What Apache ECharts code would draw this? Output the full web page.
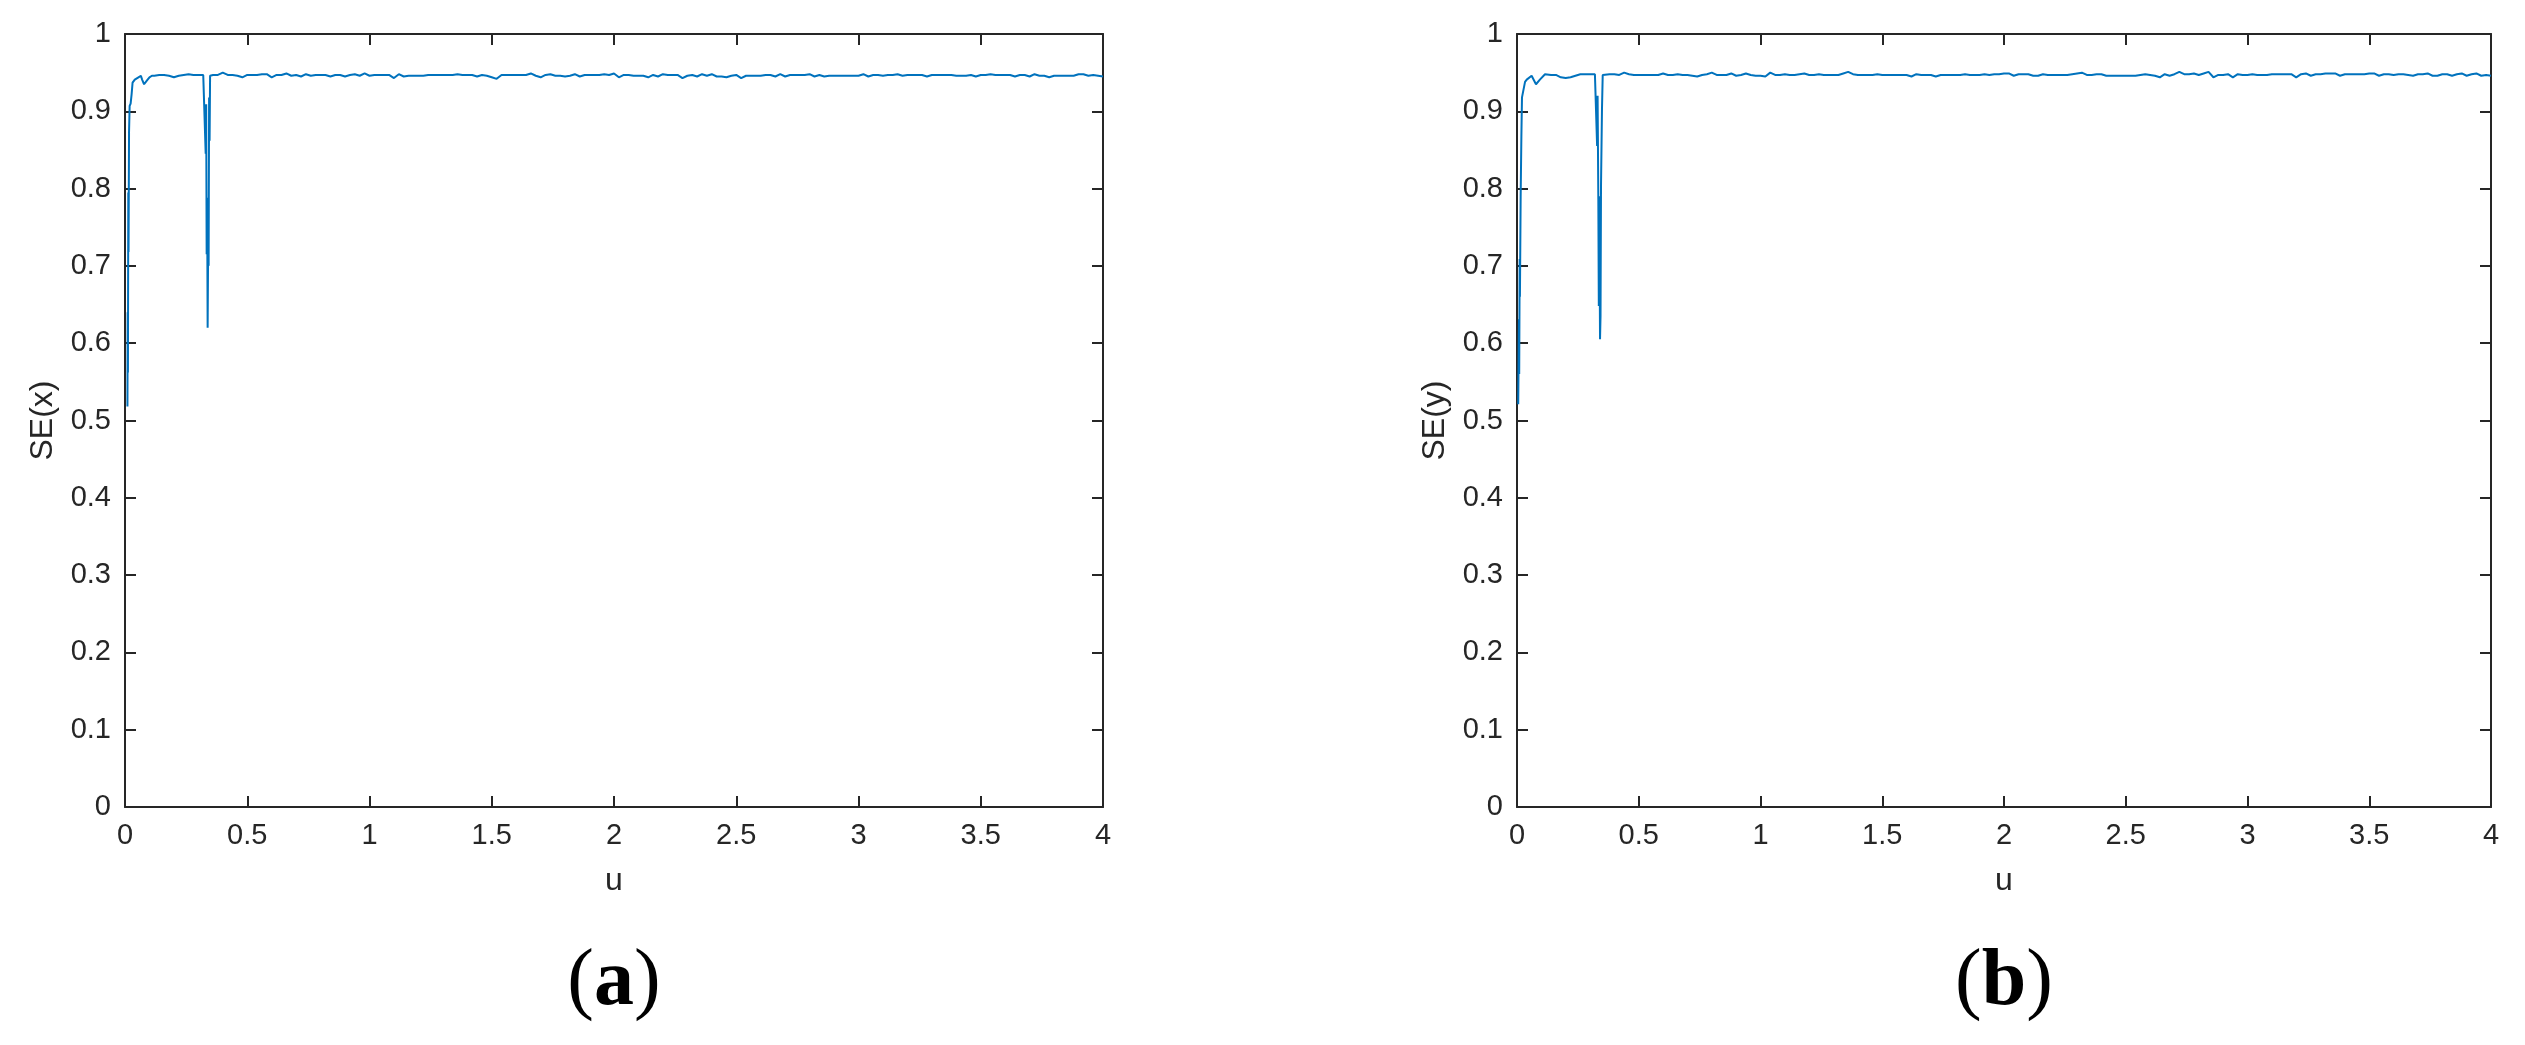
<!DOCTYPE html>
<html>
<head>
<meta charset="utf-8">
<script src="https://cdn.jsdelivr.net/npm/echarts/dist/echarts.min.js"></script>
<style>
html,body{margin:0;padding:0;background:#fff;}
#chart{width:2525px;height:1045px;}
</style>
</head>
<body>
<div id="chart"></div>
<script>
// ---- Data ----
const xTicks = { min: 0, max: 4, interval: 0.5 };
const yTicks = { min: 0, max: 1, interval: 0.1 };
const panelLabels = ['a', 'b'];
const yNames = ['SE(x)', 'SE(y)'];

// Panel (a): start-up transient and the dip near u = 0.33
const uHeadA = [0.010,0.011,0.012,0.0135,0.0145,0.0165,0.019,0.023,0.027,0.031,
  0.040,0.055,0.065,0.070,0.078,0.090,0.100,0.110,
  0.12,0.14,0.16,0.18,0.20,0.22,0.24,0.26,0.28,0.30,0.32,0.328,
  0.330,0.332,0.334,0.336,0.338,0.340,0.342,0.344,0.346,0.348];
const seHeadA = [0.518,0.640,0.562,0.795,0.718,0.873,0.907,0.910,0.922,0.937,
  0.941,0.944,0.946,0.941,0.935,0.940,0.944,0.946,
  0.946,0.947,0.947,0.946,0.944,0.946,0.947,0.948,0.947,0.947,0.947,0.947,
  0.845,0.909,0.715,0.788,0.620,0.722,0.700,0.918,0.862,0.946];

// Panel (a): plateau, u from 0.36 to 4.00 in steps of 0.02
const plateauStart = 0.36, plateauStep = 0.02;
const seTailA = [
  0.947,0.947,0.950,0.947,0.947,0.946,0.944,0.947,0.947,0.947,
  0.948,0.948,0.944,0.947,0.947,0.949,0.946,0.947,0.945,0.948,
  0.946,0.947,0.947,0.947,0.945,0.947,0.947,0.945,0.947,0.948,
  0.946,0.949,0.946,0.947,0.947,0.947,0.947,0.943,0.948,0.945,
  0.946,0.946,0.946,0.946,0.947,0.947,0.947,0.947,0.947,0.947,
  0.948,0.947,0.947,0.947,0.945,0.947,0.946,0.944,0.942,0.947,
  0.947,0.947,0.947,0.947,0.947,0.949,0.946,0.944,0.947,0.948,
  0.946,0.946,0.945,0.946,0.948,0.945,0.947,0.947,0.947,0.947,
  0.948,0.947,0.949,0.944,0.947,0.947,0.946,0.946,0.946,0.944,
  0.947,0.945,0.948,0.947,0.947,0.947,0.943,0.946,0.947,0.945,
  0.948,0.946,0.948,0.945,0.945,0.944,0.946,0.947,0.943,0.946,
  0.946,0.946,0.946,0.947,0.947,0.945,0.948,0.945,0.947,0.947,
  0.947,0.947,0.948,0.945,0.947,0.945,0.946,0.946,0.946,0.946,
  0.946,0.946,0.946,0.948,0.945,0.947,0.947,0.946,0.947,0.947,
  0.948,0.946,0.947,0.947,0.947,0.947,0.945,0.947,0.947,0.947,
  0.947,0.947,0.946,0.946,0.946,0.947,0.945,0.947,0.947,0.948,
  0.947,0.947,0.947,0.947,0.945,0.947,0.947,0.945,0.948,0.946,
  0.946,0.944,0.946,0.946,0.946,0.946,0.946,0.948,0.948,0.946,
  0.947,0.946,0.945];

// Panel (b): start-up transient and the dip near u = 0.33
const uHeadB = [0.005,0.008,0.009,0.011,0.012,0.015,0.018,0.0205,0.026,0.033,
  0.040,0.060,0.067,0.078,0.094,0.115,
  0.14,0.16,0.18,0.20,0.22,0.24,0.26,0.28,0.30,0.32,
  0.327,0.329,0.331,0.334,0.336,0.338,0.341,0.343,0.345,0.349,0.352];
const seHeadB = [0.521,0.631,0.560,0.709,0.660,0.789,0.868,0.918,0.920,0.938,
  0.941,0.946,0.947,0.935,0.941,0.948,
  0.947,0.947,0.944,0.943,0.944,0.946,0.948,0.948,0.948,0.948,
  0.948,0.855,0.920,0.786,0.648,0.790,0.605,0.635,0.8035,0.903,0.947];

// Panel (b): plateau, u from 0.36 to 4.00 in steps of 0.02
const seTailB = [
  0.947,0.948,0.948,0.947,0.950,0.948,0.947,0.947,0.947,0.947,
  0.947,0.947,0.949,0.947,0.947,0.948,0.947,0.947,0.946,0.945,
  0.947,0.948,0.950,0.947,0.947,0.947,0.949,0.946,0.947,0.949,
  0.947,0.946,0.946,0.945,0.950,0.947,0.947,0.948,0.947,0.947,
  0.948,0.949,0.947,0.947,0.948,0.947,0.947,0.947,0.947,0.949,
  0.951,0.948,0.947,0.947,0.947,0.947,0.948,0.947,0.947,0.947,
  0.947,0.947,0.947,0.945,0.948,0.947,0.947,0.947,0.945,0.947,
  0.947,0.947,0.947,0.947,0.948,0.947,0.947,0.947,0.948,0.947,
  0.948,0.948,0.949,0.949,0.946,0.948,0.948,0.948,0.946,0.946,
  0.948,0.947,0.947,0.947,0.947,0.947,0.948,0.949,0.950,0.947,
  0.947,0.948,0.948,0.946,0.946,0.946,0.946,0.946,0.946,0.946,
  0.947,0.948,0.947,0.946,0.944,0.948,0.946,0.948,0.951,0.948,
  0.948,0.949,0.947,0.949,0.951,0.944,0.947,0.947,0.948,0.944,
  0.948,0.947,0.947,0.948,0.947,0.947,0.947,0.948,0.948,0.948,
  0.948,0.948,0.944,0.948,0.949,0.946,0.948,0.948,0.949,0.949,
  0.949,0.946,0.948,0.948,0.948,0.948,0.948,0.949,0.949,0.946,
  0.948,0.948,0.947,0.948,0.948,0.947,0.946,0.948,0.948,0.949,
  0.946,0.946,0.948,0.948,0.946,0.948,0.949,0.946,0.948,0.949,
  0.946,0.947,0.946];

// ---- Build point lists ----
function buildSeries(uHead, seHead, seTail) {
  const pts = [];
  for (let i = 0; i < Math.min(uHead.length, seHead.length); i++) pts.push([uHead[i], seHead[i]]);
  for (let i = 0; i < seTail.length; i++) {
    const u = +(plateauStart + i * plateauStep).toFixed(4);
    pts.push([u, seTail[i]]);
  }
  return pts;
}
const seriesData = [buildSeries(uHeadA, seHeadA, seTailA), buildSeries(uHeadB, seHeadB, seTailB)];

// ---- Styling ----
const ink = '#262626';
const lineBlue = '#0072BD';
const sans = '"Liberation Sans", Arial, Helvetica, sans-serif';
const serif = '"Liberation Serif", "Times New Roman", serif';
const grids = [
  { left: 125, top: 34, width: 978, height: 773 },
  { left: 1517, top: 34, width: 974, height: 773 }
];

const xAxes = [], yAxes = [], series = [], graphics = [];
grids.forEach((g, gi) => {
  const axLine = { show: true, onZero: false, lineStyle: { color: ink, width: 2 } };
  const tick = { show: true, inside: true, length: 11, lineStyle: { color: ink, width: 2 } };
  xAxes.push({
    type: 'value', gridIndex: gi, position: 'bottom',
    min: xTicks.min, max: xTicks.max, interval: xTicks.interval,
    name: 'u', nameLocation: 'middle', nameGap: 58,
    nameTextStyle: { fontSize: 32, color: ink, fontFamily: sans },
    axisLine: axLine, axisTick: tick,
    axisLabel: { fontSize: 29, margin: 14, color: ink, fontFamily: sans },
    splitLine: { show: false }
  });
  xAxes.push({
    type: 'value', gridIndex: gi, position: 'top',
    min: xTicks.min, max: xTicks.max, interval: xTicks.interval,
    axisLine: axLine, axisTick: tick, axisLabel: { show: false }, splitLine: { show: false }
  });
  yAxes.push({
    type: 'value', gridIndex: gi, position: 'left',
    min: yTicks.min, max: yTicks.max, interval: yTicks.interval,
    name: yNames[gi], nameLocation: 'middle', nameGap: 66,
    nameTextStyle: { fontSize: 32, color: ink, fontFamily: sans },
    axisLine: axLine, axisTick: tick,
    axisLabel: { fontSize: 29, margin: 14, color: ink, fontFamily: sans },
    splitLine: { show: false }
  });
  yAxes.push({
    type: 'value', gridIndex: gi, position: 'right',
    min: yTicks.min, max: yTicks.max, interval: yTicks.interval,
    axisLine: axLine, axisTick: tick, axisLabel: { show: false }, splitLine: { show: false }
  });
  series.push({
    type: 'line', xAxisIndex: gi * 2, yAxisIndex: gi * 2,
    data: seriesData[gi], showSymbol: false, symbol: 'none',
    lineStyle: { color: lineBlue, width: 2 }, itemStyle: { color: lineBlue },
    animation: false
  });
  graphics.push({
    type: 'text', x: g.left + g.width / 2, y: 983,
    style: {
      text: '{n|(}{b|' + panelLabels[gi] + '}{n|)}',
      align: 'center', verticalAlign: 'middle',
      rich: {
        n: { fontFamily: serif, fontSize: 80, fontWeight: 'normal', fill: '#000', color: '#000' },
        b: { fontFamily: serif, fontSize: 80, fontWeight: 'bold', fill: '#000', color: '#000' }
      }
    }
  });
});

const chart = echarts.init(document.getElementById('chart'), null, { renderer: 'canvas' });
chart.setOption({
  animation: false,
  backgroundColor: '#ffffff',
  grid: grids,
  xAxis: xAxes,
  yAxis: yAxes,
  series: series,
  graphic: graphics
});
</script>
</body>
</html>
